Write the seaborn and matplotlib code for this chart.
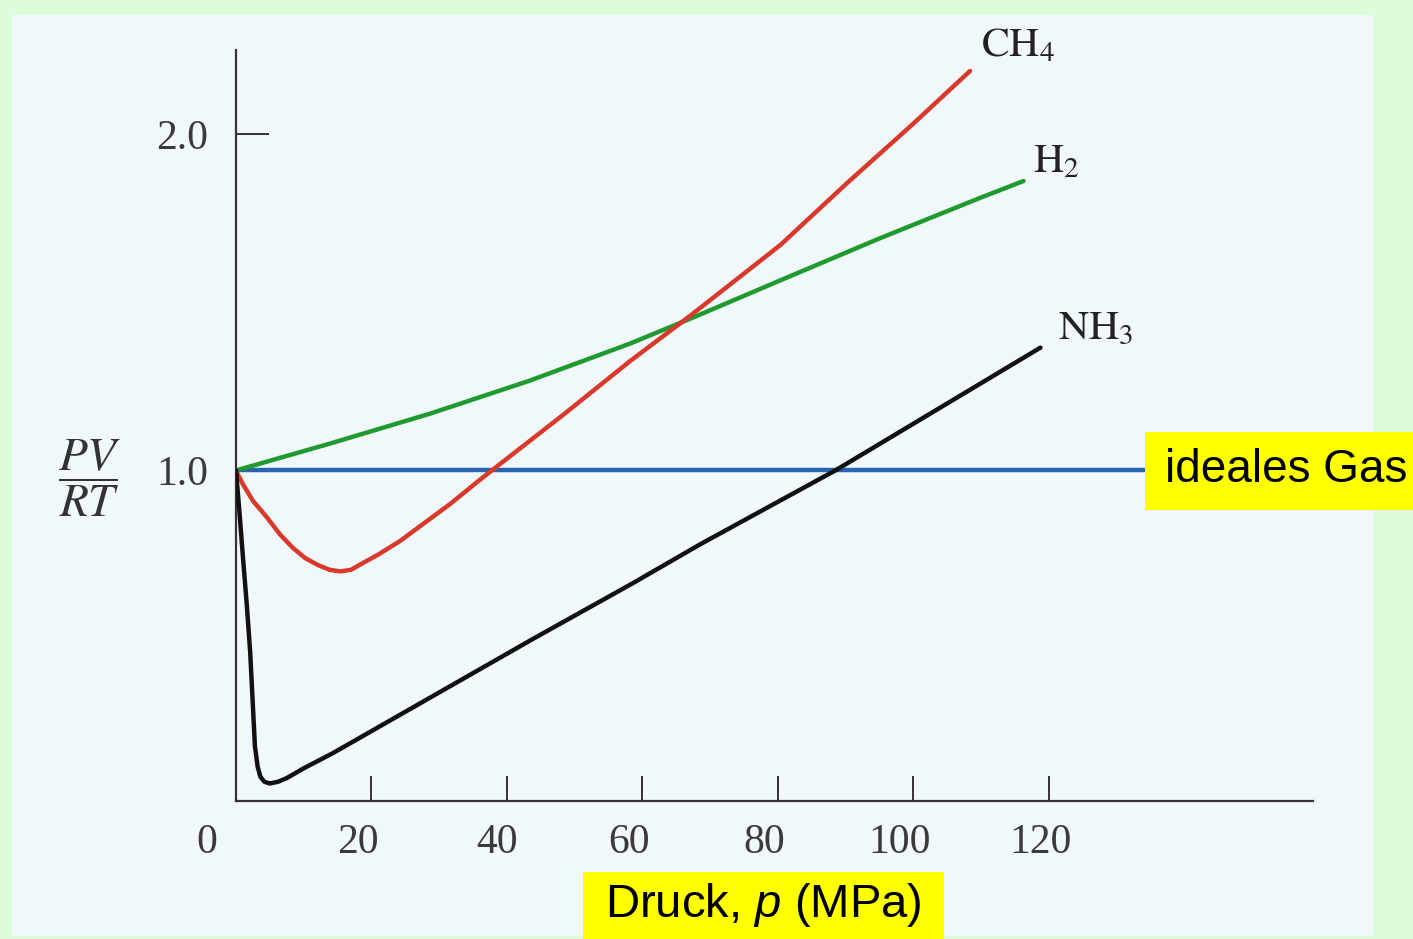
import numpy as np
import pandas as pd
import matplotlib
matplotlib.use('Agg')
import matplotlib.pyplot as plt
import matplotlib.transforms as mtransforms
from matplotlib.patches import Rectangle
import seaborn as sns

# Kompressibilitätsfaktor PV/RT gegen Druck (MPa)
p_ch4 = [0, 1.0, 2.5, 4.6, 6.5, 8.4, 10.2, 12.0, 13.8, 15.4, 17.0, 18.3, 21.0, 24.2,
         31.6, 36.5, 48.3, 58.2, 67.1, 80.4, 90.3, 100.0, 108.4]
z_ch4 = [1.0, 0.96, 0.91, 0.86, 0.81, 0.77, 0.74, 0.72, 0.705, 0.70, 0.705, 0.72, 0.75, 0.79,
         0.90, 0.98, 1.165, 1.325, 1.46, 1.67, 1.855, 2.03, 2.187]

p_h2 = [0, 13.9, 28.7, 43.4, 58.2, 67.1, 80.4, 95.1, 109.9, 116.3]
z_h2 = [1.0, 1.08, 1.169, 1.267, 1.377, 1.451, 1.565, 1.69, 1.81, 1.86]

p_nh3 = [0, 0.5, 1.0, 1.6, 2.1, 2.5, 2.8, 3.2, 3.6, 4.2, 5.0, 6.2, 7.5, 10.0, 14.3,
         29.1, 43.9, 58.6, 68.5, 88.5, 118.8]
z_nh3 = [1.0, 0.88, 0.75, 0.60, 0.46, 0.30, 0.18, 0.12, 0.09, 0.075, 0.07, 0.075, 0.086, 0.115, 0.16,
         0.33, 0.50, 0.665, 0.78, 1.0, 1.365]

p_ideal = [0, 160]
z_ideal = [1.0, 1.0]

x_ticks = [0, 20, 40, 60, 80, 100, 120]
y_ticks = [1.0, 2.0]
gas_labels = [r'$\mathrm{CH_4}$', r'$\mathrm{H_2}$', r'$\mathrm{NH_3}$']
label_pos = [(110.0, 2.23), (117.7, 1.885), (121.4, 1.39)]

sns.set_style('ticks')
plt.rcParams['font.family'] = ['Liberation Serif', 'DejaVu Serif']
plt.rcParams['mathtext.it'] = 'Liberation Sans:italic'
plt.rcParams['mathtext.rm'] = 'Liberation Sans'

fig = plt.figure(figsize=(14.13, 9.39), dpi=100)
fig.patch.set_facecolor('#dcfcdc')
# gescannter Bildbereich
fig.patches.append(Rectangle((0.0085, 0.003), 0.963, 0.981, transform=fig.transFigure,
                             facecolor='#f1f8fb', edgecolor='none', zorder=-5))

ax = fig.add_axes([0.167, 0.147, 0.762, 0.80])
ax.set_facecolor('none')
ax.set_zorder(1)

series = [
    (p_ideal, z_ideal, '#2a66b0'),
    (p_h2, z_h2, '#1f9a2e'),
    (p_ch4, z_ch4, '#d8392b'),
    (p_nh3, z_nh3, '#111111'),
]
for xs, ys, col in series:
    sns.lineplot(x=xs, y=ys, ax=ax, color=col, lw=3.2, sort=False, zorder=3,
                 solid_capstyle='round', solid_joinstyle='round')

ax.set_xlim(0, 159)
ax.set_ylim(0.018, 2.25)
sns.despine(ax=ax)
for s in ['left', 'bottom']:
    ax.spines[s].set_color('#333333')
    ax.spines[s].set_linewidth(1.6)

ax.set_xticks(x_ticks)
ax.set_xticklabels([str(v) for v in x_ticks])
ax.set_yticks(y_ticks)
ax.set_yticklabels(['1.0', '2.0'])
ax.tick_params(axis='x', direction='in', length=18, width=1.4, color='#333333',
               pad=16, labelsize=30, labelcolor='#3a3a3a')
ax.tick_params(axis='y', direction='in', length=24, width=1.4, color='#333333',
               pad=20, labelsize=30, labelcolor='#3a3a3a')

# Beschriftungen der x-Achse leicht nach links versetzt wie im Original
offsets = [-29, -13, -10, -13, -13, -14, -8]
for lab, dx in zip(ax.get_xticklabels(), offsets):
    lab.set_transform(lab.get_transform() +
                      mtransforms.ScaledTranslation(dx / 100, 0, fig.dpi_scale_trans))

for txt, (x, y) in zip(gas_labels, label_pos):
    ax.text(x, y, txt, fontsize=30, color='#222222', va='baseline', ha='left',
            math_fontfamily='stix')

fig.text(0.0637, 0.491, r'$\dfrac{PV}{RT}$', fontsize=34, color='#333333',
         ha='center', va='center', math_fontfamily='stix')

# gelbe Kästen
fig.patches.append(Rectangle((0.8103, 0.457), 0.19, 0.083, transform=fig.transFigure,
                             facecolor='#ffff00', edgecolor='none', zorder=5))
fig.text(0.8245, 0.4995, 'ideales Gas', fontsize=33, family='Liberation Sans',
         color='black', ha='left', va='center', zorder=6)
fig.patches.append(Rectangle((0.4126, 0.0), 0.2555, 0.0714, transform=fig.transFigure,
                             facecolor='#ffff00', edgecolor='none', zorder=5))
fig.text(0.5403, 0.036, r'Druck, $p$ (MPa)', fontsize=34, family='Liberation Sans',
         color='black', ha='center', va='center', zorder=6, math_fontfamily='custom')

fig.savefig('out.png', dpi=100, facecolor=fig.get_facecolor())
